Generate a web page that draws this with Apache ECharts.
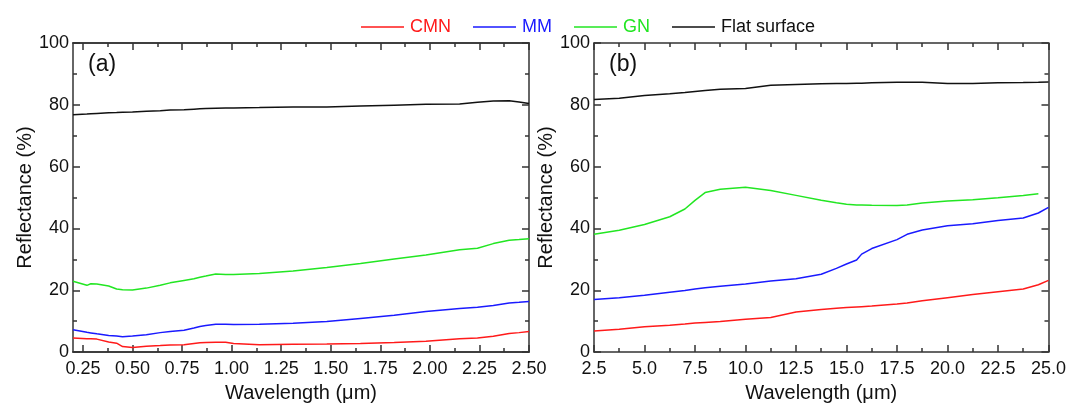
<!DOCTYPE html>
<html>
<head>
<meta charset="utf-8">
<script src="https://cdn.jsdelivr.net/npm/echarts@6/dist/echarts.min.js"></script>
<style>
  html, body { margin: 0; padding: 0; background: #fff; }
  #chart { width: 1069px; height: 408px; }
</style>
</head>
<body>
<div id="chart"></div>
<script>
// panel (a): 0.2 - 2.5 um
const wlA     = [0.20, 0.27, 0.29, 0.32, 0.38, 0.42, 0.45, 0.50, 0.57, 0.64, 0.69, 0.76, 0.81, 0.84, 0.87, 0.92, 0.97, 1.01, 1.14, 1.31, 1.48, 1.65, 1.82, 1.98, 2.15, 2.24, 2.32, 2.40, 2.45, 2.50];
const cmnA    = [4.6, 4.3, 4.3, 4.2, 3.3, 2.9, 1.8, 1.5, 1.9, 2.1, 2.3, 2.4, 2.8, 3.0, 3.1, 3.2, 3.2, 2.8, 2.4, 2.5, 2.6, 2.8, 3.1, 3.5, 4.3, 4.6, 5.1, 6.0, 6.3, 6.7];
const mmA     = [7.2, 6.4, 6.2, 5.9, 5.4, 5.2, 5.0, 5.2, 5.6, 6.3, 6.7, 7.1, 7.8, 8.3, 8.6, 9.0, 9.0, 8.9, 9.0, 9.3, 9.9, 10.9, 11.9, 13.1, 14.1, 14.5, 15.1, 15.9, 16.1, 16.4];
const gnA     = [22.9, 21.6, 22.1, 22.0, 21.4, 20.4, 20.2, 20.1, 20.7, 21.6, 22.4, 23.2, 23.7, 24.2, 24.6, 25.3, 25.1, 25.1, 25.4, 26.2, 27.4, 28.7, 30.1, 31.4, 33.1, 33.6, 35.1, 36.2, 36.4, 36.7];
const flatA   = [76.8, 77.0, 77.1, 77.2, 77.4, 77.5, 77.6, 77.7, 77.9, 78.1, 78.3, 78.4, 78.6, 78.7, 78.8, 78.9, 79.0, 79.0, 79.1, 79.3, 79.3, 79.6, 79.9, 80.2, 80.3, 80.8, 81.2, 81.3, 80.9, 80.4];

// panel (b): 2.5 - 25 um
const wlB     = [2.5, 3.75, 5.0, 6.25, 7.0, 7.5, 8.0, 8.75, 10.0, 11.25, 12.5, 13.75, 14.5, 15.0, 15.5, 15.75, 16.25, 17.5, 18.0, 18.75, 20.0, 21.25, 22.5, 23.75, 24.5, 25.0];
const cmnB    = [6.8, 7.4, 8.2, 8.7, 9.1, 9.4, 9.6, 9.9, 10.6, 11.2, 13.0, 13.8, 14.2, 14.4, 14.6, 14.7, 14.9, 15.6, 15.9, 16.6, 17.6, 18.6, 19.5, 20.4, 21.8, 23.2];
const mmB     = [17.0, 17.6, 18.4, 19.4, 19.9, 20.4, 20.8, 21.3, 22.0, 23.0, 23.7, 25.2, 27.1, 28.5, 29.8, 31.7, 33.5, 36.4, 38.1, 39.5, 40.9, 41.5, 42.6, 43.4, 45.0, 46.8];
const gnB     = [38.1, 39.4, 41.3, 43.8, 46.3, 49.1, 51.6, 52.7, 53.3, 52.3, 50.7, 49.1, 48.3, 47.8, 47.6, 47.6, 47.5, 47.4, 47.6, 48.2, 48.9, 49.3, 49.9, 50.7, 51.2, null];
const flatB   = [81.7, 82.1, 83.0, 83.6, 84.0, 84.3, 84.6, 85.0, 85.3, 86.3, 86.6, 86.8, 86.9, 86.9, 87.0, 87.0, 87.1, 87.3, 87.3, 87.3, 86.9, 86.9, 87.1, 87.2, 87.3, 87.4];

const ticksA      = [0.25, 0.5, 0.75, 1.0, 1.25, 1.5, 1.75, 2.0, 2.25, 2.5];
const minorTicksA = [0.375, 0.625, 0.875, 1.125, 1.375, 1.625, 1.875, 2.125, 2.375];

const names  = ['CMN', 'MM', 'GN', 'Flat surface'];
const colors = ['#ff1a1a', '#1a1aff', '#22e622', '#111111'];

const font = 'Liberation Sans, Arial, sans-serif';
const axisColor = '#333';

function pairs(xs, ys) {
    return xs.map((x, i) => [x, ys[i]]);
}

// x axis of panel (a), ticks placed from lists (range does not start on a tick)
function xAxisA(position, values, len, labels) {
    return {
        type: 'value', gridIndex: 0, position: position,
        min: 0.2, max: 2.5,
        axisLine: { show: true, onZero: false, lineStyle: { color: axisColor, width: 1.5 } },
        axisTick: { show: true, inside: true, length: len, customValues: values, lineStyle: { color: axisColor, width: 1.5 } },
        axisLabel: { show: labels, customValues: values, margin: 8, fontSize: 18, fontFamily: font, color: '#111',
                     formatter: v => v.toFixed(2) },
        splitLine: { show: false },
        name: labels ? 'Wavelength (\u03bcm)' : '',
        nameLocation: 'middle', nameGap: 28,
        nameTextStyle: { fontSize: 20, fontFamily: font, color: '#111' }
    };
}

function xAxisB(position, labels) {
    return {
        type: 'value', gridIndex: 1, position: position,
        min: 2.5, max: 25, interval: 2.5,
        axisLine: { show: true, onZero: false, lineStyle: { color: axisColor, width: 1.5 } },
        axisTick: { show: true, inside: true, length: 7, lineStyle: { color: axisColor, width: 1.5 } },
        minorTick: { show: true, splitNumber: 2, length: 4, lineStyle: { color: axisColor, width: 1.5 } },
        axisLabel: { show: labels, margin: 8, fontSize: 18, fontFamily: font, color: '#111',
                     formatter: v => v.toFixed(1) },
        splitLine: { show: false },
        name: labels ? 'Wavelength (\u03bcm)' : '',
        nameLocation: 'middle', nameGap: 28,
        nameTextStyle: { fontSize: 20, fontFamily: font, color: '#111' }
    };
}

function yAxis(grid, position, labels) {
    return {
        type: 'value', gridIndex: grid, position: position,
        min: 0, max: 100, interval: 20,
        axisLine: { show: true, onZero: false, lineStyle: { color: axisColor, width: 1.5 } },
        axisTick: { show: true, inside: true, length: 7, lineStyle: { color: axisColor, width: 1.5 } },
        minorTick: { show: true, splitNumber: 2, length: 4, lineStyle: { color: axisColor, width: 1.5 } },
        axisLabel: { show: labels, margin: 4, fontSize: 18, fontFamily: font, color: '#111' },
        splitLine: { show: false },
        name: labels ? 'Reflectance (%)' : '',
        nameLocation: 'middle', nameGap: 32,
        nameTextStyle: { fontSize: 20, fontFamily: font, color: '#111' }
    };
}

function lineSeries(name, color, data, xi, yi) {
    return {
        name: name, type: 'line', xAxisIndex: xi, yAxisIndex: yi,
        data: data, symbol: 'none', connectNulls: false,
        lineStyle: { color: color, width: 1.5 }, itemStyle: { color: color }
    };
}

const chart = echarts.init(document.getElementById('chart'));
const seriesA = [cmnA, mmA, gnA, flatA];
const seriesB = [cmnB, mmB, gnB, flatB];

chart.setOption({
    animation: false,
    backgroundColor: '#fff',
    legend: {
        left: 356, top: 13,
        icon: 'rect',
        itemWidth: 43, itemHeight: 1.5, itemGap: 22,
        data: names.map((n, i) => ({ name: n, textStyle: { color: i === 3 ? '#111' : colors[i] } })),
        textStyle: { fontSize: 18, fontFamily: font, padding: [0, 0, 0, 1] }
    },
    grid: [
        { left: 73, width: 456, top: 43, height: 313.5 },
        { left: 594, width: 456, top: 43, height: 313.5 }
    ],
    xAxis: [
        xAxisA('bottom', ticksA, 7, true),
        xAxisA('bottom', minorTicksA, 4, false),
        xAxisA('top', ticksA, 7, false),
        xAxisA('top', minorTicksA, 4, false),
        xAxisB('bottom', true),
        xAxisB('top', false)
    ],
    yAxis: [
        yAxis(0, 'left', true),
        yAxis(0, 'right', false),
        yAxis(1, 'left', true),
        yAxis(1, 'right', false)
    ],
    graphic: [
        { type: 'text', left: 88, top: 53, style: { text: '(a)', fontSize: 23, fontFamily: font, fill: '#111' } },
        { type: 'text', left: 609, top: 53, style: { text: '(b)', fontSize: 23, fontFamily: font, fill: '#111' } }
    ],
    series: [
        ...names.map((n, i) => lineSeries(n, colors[i], pairs(wlA, seriesA[i]), 0, 0)),
        ...names.map((n, i) => lineSeries(n, colors[i], pairs(wlB, seriesB[i]), 4, 2))
    ]
});
</script>
</body>
</html>
